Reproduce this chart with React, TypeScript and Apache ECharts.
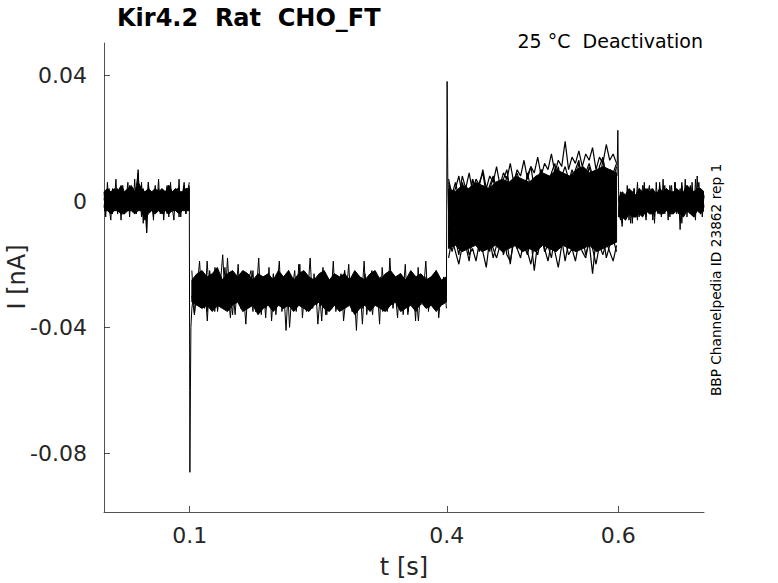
import React, { useEffect, useRef } from "react";
import * as echarts from "echarts";

// Tick positions and labels
const X_TICKS = [0.1, 0.4, 0.6];
const X_TICK_LABELS = ["0.1", "0.4", "0.6"];
const Y_TICKS = [-0.08, -0.04, 0, 0.04];
const Y_TICK_LABELS = ["-0.08", "-0.04", "0", "0.04"];

// All current values below are in pA (1 pA = 0.001 nA).
// Pre-pulse (0 – 0.1 s): noisy sweeps plus the dense noise core
const preA = [1, -3, 4, -2, 3, -4, 2, -1, 4, -3, 0, 3, -4, 2, -2, 5, -3, 1, -4, 3, -1, 2, -5, 4, 0, -3, 6, -2, 3, -4, 1, -2, 4, -3, 2, -1, 3, -4, 5, -2, 0, 3, -3, 4, -1, -3, 2, 5, -2, 3, 4];
const preB = [-2, 3, -1, 4, -4, 2, -3, 3, -2, 1, -4, 4, -1, 3, -3, 2, -2, 4, -3, 5, 9, -2, 6, -4, 2, -10, 3, -3, 1, -5, 4, -2, 3, -3, 2, -4, 3, -1, -4, 4, -2, 2, -3, 4, -5, 3, -2, 2, -4, 3, 6];
const preC = [3, -5, 6, -2, -6, 4, -1, 7, -4, 2, -6, 5, -3, 1, 6, -5, 3, -2, 7, -4, 10, -1, 5, -7, 3, -10, 6, -3, 2, -6, 5, -1, 7, -4, 3, -6, 1, 5, -5, 6, -2, -6, 4, -3, 7, -5, 2, 6, -4, 3, -2];
const preHi = [3, 4, 3, 4, 3, 5, 3, 4, 5, 3, 6, 4, 3, 4, 3, 4, 3, 4, 3, 5, 3, 4, 3, 3, 4, 4];
const preLo = [-3, -3, -4, -3, -3, -4, -4, -3, -3, -4, -3, -3, -6, -4, -3, -4, -3, -4, -3, -4, -3, -3, -4, -3, -3, -3];

// Step onset transient at 0.1 s
const onsetT = [0.0995, 0.1002, 0.1008, 0.1014, 0.1025];
const onsetV = [5, -86, -60, -40, -34];

// Holding step (0.1 – 0.4 s)
const holdA = [-34, -27, -33, -24, -31, -26, -35, -22, -30, -27, -34, -25, -31, -21, -33, -28, -36, -24, -30, -26, -33, -23, -31, -28, -35, -25, -29, -32, -24, -34, -27, -31, -23, -36, -28, -30, -25, -33, -22, -31, -27, -35, -26, -30, -24, -34, -29, -32, -23, -31, -27, -38, -25, -30, -28, -34, -24, -31, -26, -33, -22, -30, -28, -35, -25, -31, -27, -34, -23, -30, -29, -36, -26, -32, -24, -31, -28, -34, -25, -30, -27, -33, -23, -31, -29, -35, -26, -30, -24, -33, -28, -31, -25, -34, -27, -30, -24, -32, -28, -31, -26];
const holdB = [-30, -36, -25, -32, -27, -34, -19, -31, -26, -35, -24, -30, -28, -33, -18, -32, -27, -36, -24, -31, -29, -34, -25, -30, -22, -35, -28, -32, -26, -37, -24, -30, -29, -33, -23, -31, -27, -41, -25, -30, -28, -34, -20, -32, -27, -35, -24, -31, -29, -33, -26, -30, -23, -36, -28, -31, -25, -34, -27, -30, -22, -33, -29, -35, -24, -31, -26, -39, -25, -30, -28, -33, -23, -32, -27, -35, -26, -30, -24, -34, -28, -31, -25, -36, -27, -30, -23, -33, -29, -38, -26, -31, -24, -34, -28, -30, -25, -33, -27, -31, -29];
const holdC = [-22, -36, -28, -19, -33, -26, -38, -24, -30, -21, -35, -27, -17, -32, -29, -37, -23, -31, -20, -34, -28, -39, -25, -22, -33, -30, -18, -36, -27, -32, -21, -38, -26, -29, -19, -35, -31, -24, -40, -28, -22, -33, -20, -37, -27, -30, -18, -34, -25, -39, -29, -21, -36, -26, -32, -19, -35, -28, -23, -38, -30, -20, -34, -27, -41, -24, -31, -19, -36, -29, -22, -33, -26, -39, -21, -30, -35, -18, -32, -28, -37, -23, -31, -20, -36, -27, -25, -38, -21, -33, -29, -19, -35, -26, -31, -22, -37, -28, -24, -34];
const holdHi = [-25, -23, -22, -24, -23, -21, -25, -23, -22, -24, -22, -23, -25, -23, -24, -23, -25, -22, -24, -22, -25, -23, -22, -24, -25, -23, -22, -25, -23, -24, -23, -25, -22, -24, -25, -23, -22, -25, -23, -22, -24, -23, -25, -22, -24, -23, -25, -24, -22, -25, -24];
const holdLo = [-32, -33, -34, -33, -35, -33, -34, -35, -33, -32, -35, -34, -33, -36, -34, -33, -35, -33, -34, -33, -35, -33, -34, -35, -33, -32, -34, -35, -33, -35, -34, -33, -36, -34, -33, -35, -33, -34, -35, -33, -32, -35, -34, -33, -35, -32, -34, -33, -35, -33, -32];

// Step offset transient at 0.4 s
const offsetT = [0.3995, 0.4003, 0.4012, 0.402];
const offsetV = [-30, 38, 4, -4];

// Deactivation tails (0.4 – 0.6 s), one per sweep, plus their dense overlap core
const tail1 = [-10, -16, -12, -17, -9, -14, -19, -11, -13, -16, -8, -15, -12, -18, -14, -10, -17, -13, -20, -11, -15, -9, -14, -17, -12, -22, -13, -10, -16, -14, -18, -11, -15, -12, -19, -13, -9, -16, -14, -11, -17, -13, -23, -12, -15, -10, -18, -14, -12, -16];
const tail2 = [-18, -12, -16, -20, -14, -11, -17, -15, -19, -13, -16, -21, -12, -15, -18, -14, -10, -17, -19, -13, -15, -18, -12, -16, -20, -14, -17, -11, -15, -19, -13, -16, -21, -14, -12, -17, -15, -19, -13, -16, -18, -12, -15, -20, -14, -17, -13, -16, -19, -14];
const tail3 = [-8, -13, -10, -15, -7, -12, -9, -14, -11, -6, -13, -10, -16, -9, -12, -8, -14, -11, -13, -7, -15, -10, -12, -9, -14, -8, -11, -13, -6, -12, -10, -15, -9, -11, -7, -14, -10, -12, -8, -13, -11, -9, -15, -10, -7, -12, -9, -13, -10, -8];
const tail4 = [-5, -10, -7, -11, -4, -9, -12, -6, -8, -3, -10, -7, -9, -5, -11, -8, -4, -9, -12, -6, -8, -5, -10, -7, -3, -9, -6, -11, -5, -8, -7, -4, -10, -6, -9, -3, -8, -6, -10, -5, -7, -4, -9, -6, -2, -8, -5, -9, -6, -4];
const tail5 = [-2, -7, -4, -8, -1, -6, -3, -9, -5, -2, -7, -3, -6, 0, -5, -8, -2, -4, -7, -1, -5, -3, -8, -2, -4, 1, -6, -3, -5, -1, -4, -7, 0, -3, -5, -1, -6, -2, 1, -4, -3, -6, 0, -2, -5, 1, -3, -1, -4, 0];
const tail6 = [1, -4, -1, -5, 2, -2, -6, 0, -3, 3, -1, -4, 1, -2, -5, 2, 0, -3, 3, -1, -4, 1, -2, 4, 0, -3, 2, -1, 4, 0, -2, 3, 1, -3, 4, 0, 2, -2, 5, 1, -1, 3, 0, 5, 1, -2, 4, 2, 0, 3];
const tail7 = [3, -2, 1, -3, 4, 0, -1, 5, 1, -3, 3, 0, -2, 4, 2, -1, 6, 1, 3, -1, 5, 2, 0, 6, 3, 1, 7, 2, 4, 0, 6, 3, 1, 8, 4, 2, 7, 3, 5, 9, 4, 2, 8, 5, 3, 9, 6, 4, 8, 5];
const tail8 = [5, 0, 3, -1, 6, 2, 0, 7, 3, 1, 5, -1, 4, 7, 2, 6, 3, 8, 4, 1, 7, 5, 2, 9, 4, 6, 3, 10, 5, 8, 4, 7, 11, 5, 8, 6, 10, 7, 12, 8, 5, 11, 7, 9, 6, 13, 8, 10, 7, 11];
const tail9 = [7, 2, 6, 1, 8, 4, 9, 3, 7, 5, 10, 4, 8, 6, 11, 5, 9, 7, 12, 6, 10, 8, 13, 7, 11, 9, 14, 8, 12, 10, 15, 9, 13, 11, 19, 10, 14, 12, 16, 11, 15, 13, 17, 10, 14, 12, 18, 13, 15, 12];
const tail10 = [6, 1, 4, 8, 2, 5, 0, 7, 3, 6, 9, 2, 5, 8, 4, 1, 7, 10, 3, 6, 9, 5, 2, 8, 11, 4, 7, 10, 6, 3, 9, 12, 5, 8, 11, 7, 4, 10, 13, 6, 9, 12, 8, 5, 11, 14, 7, 10, 9, 12];
const tailHi = [4, 3, 5, 4, 6, 5, 4, 6, 7, 6, 8, 7, 6, 8, 9, 8, 10, 9, 8, 10, 11, 9, 10, 11, 10, 9];
const tailLo = [-15, -14, -16, -15, -14, -16, -15, -14, -16, -15, -14, -16, -15, -16, -14, -15, -16, -14, -15, -16, -15, -14, -16, -15, -14, -13];

// Spike at the end of the tail step, 0.6 s
const endT = [0.5985, 0.5995, 0.6005];
const endV = [8, 22.5, 0];

// Post-pulse (0.6 – 0.7 s)
const postA = [-2, -6, 1, -5, 2, -4, 0, -7, 3, -3, 1, -5, 4, -2, -1, 5, -4, 2, -3, 4, -1, -5, 3, -2, 5, -3, 1, -4, 4, -2, 0, 5, -3, 2, -4, 3, -1, 6, -2, 4, -3, 1, 5, -2, 3, -4, 2, 6, -1, 3, -2];
const postB = [-5, 0, -7, 2, -3, 3, -6, 1, -4, 4, -2, -6, 2, -3, 5, -1, -5, 4, -2, 1, -6, 3, 0, -4, 6, -1, -3, 5, -2, 2, -5, 3, -3, 6, 0, -4, 4, -7, 2, -1, 5, -3, 0, 4, -5, 7, -2, 1, -4, 3, 1];
const postC = [-4, 3, -8, 2, -6, 5, -3, 1, -7, 4, -2, 6, -5, 3, -1, 6, -6, 2, 5, -4, 3, -7, 6, -2, 4, -5, 7, -3, 2, -6, 5, -1, -4, 6, -2, 3, -9, 5, -3, 7, -5, 2, -4, 6, -1, -6, 8, -3, 4, -5, 2];
const postHi = [1, 3, 2, 4, 3, 2, 4, 3, 4, 3, 4, 2, 4, 3, 4, 3, 3, 4, 3, 3, 5, 4, 3, 4, 4, 3];
const postLo = [-5, -5, -6, -4, -5, -5, -4, -5, -3, -4, -4, -3, -4, -4, -3, -4, -4, -3, -4, -5, -3, -4, -5, -3, -4, -3];

const sampled = (vals: number[], t0: number, t1: number) =>
  vals.map((v, i) => [t0 + ((t1 - t0) * i) / (vals.length - 1), v / 1000]);
const paired = (ts: number[], vs: number[]) => ts.map((t, i) => [t, vs[i] / 1000]);

const labelFor = (ticks: number[], labels: string[]) => (v: number) => {
  const i = ticks.findIndex((t) => Math.abs(t - v) < 1e-9);
  return i >= 0 ? labels[i] : "";
};

const BANDS = [
  { t0: 0, t1: 0.0995, hi: preHi, lo: preLo },
  { t0: 0.1025, t1: 0.3995, hi: holdHi, lo: holdLo },
  { t0: 0.402, t1: 0.598, hi: tailHi, lo: tailLo },
  { t0: 0.6005, t1: 0.7, hi: postHi, lo: postLo },
];

export default function App() {
  const ref = useRef<HTMLDivElement>(null);
  useEffect(() => {
    document.body.style.margin = "0";
    if (!ref.current) return;
    const chart = echarts.init(ref.current, undefined, { renderer: "svg" });
    const thin: number[][][] = [
      sampled(preA, 0, 0.0995),
      sampled(preB, 0, 0.0995),
      sampled(preC, 0, 0.0995),
      paired(onsetT, onsetV),
      sampled(holdA, 0.1025, 0.3995),
      sampled(holdB, 0.1025, 0.3995),
      sampled(holdC, 0.1025, 0.3995),
      paired(offsetT, offsetV),
      paired(endT, endV),
      sampled(postA, 0.6005, 0.7),
      sampled(postB, 0.6005, 0.7),
      sampled(postC, 0.6005, 0.7),
    ];
    const tails = [tail1, tail2, tail3, tail4, tail5, tail6, tail7, tail8, tail9, tail10].map((t) =>
      sampled(t, 0.402, 0.598)
    );
    const axisColor = "#262626";
    const font = "DejaVu Sans";
    const bandSeries = {
      type: "custom",
      silent: true,
      clip: true,
      data: BANDS.map((b) => [b.t0, b.hi[0] / 1000]),
      renderItem: (params: any, api: any) => {
        const b = BANDS[params.dataIndex];
        const up = sampled(b.hi, b.t0, b.t1).map((p) => api.coord(p));
        const dn = sampled(b.lo, b.t0, b.t1).map((p) => api.coord(p)).reverse();
        return { type: "polygon", shape: { points: up.concat(dn) }, style: { fill: "#000", stroke: "#000", lineWidth: 1 } };
      },
    };
    const lineSeries = (d: number[][], w: number) => ({
      type: "line",
      data: d,
      showSymbol: false,
      symbol: "none",
      silent: true,
      lineStyle: { color: "#000", width: w },
      emphasis: { disabled: true },
    });
    chart.setOption({
      animation: false,
      textStyle: { fontFamily: font },
      grid: { left: 104, top: 43, right: 74, bottom: 71, containLabel: false },
      xAxis: {
        type: "value",
        min: 0,
        max: 0.7,
        axisLine: { show: true, onZero: false, lineStyle: { color: axisColor, width: 0.8 } },
        axisTick: { show: true, inside: true, length: 6, customValues: X_TICKS, lineStyle: { color: axisColor, width: 0.8 } },
        axisLabel: {
          show: true,
          customValues: X_TICKS,
          formatter: labelFor(X_TICKS, X_TICK_LABELS),
          color: axisColor,
          fontSize: 22,
          fontFamily: font,
          margin: 12,
        },
        splitLine: { show: false },
      },
      yAxis: {
        type: "value",
        min: -0.0986,
        max: 0.0502,
        axisLine: { show: true, onZero: false, lineStyle: { color: axisColor, width: 0.8 } },
        axisTick: { show: true, inside: true, length: 6, customValues: Y_TICKS, lineStyle: { color: axisColor, width: 0.8 } },
        axisLabel: {
          show: true,
          customValues: Y_TICKS,
          formatter: labelFor(Y_TICKS, Y_TICK_LABELS),
          color: axisColor,
          fontSize: 22,
          fontFamily: font,
          margin: 17,
        },
        splitLine: { show: false },
      },
      graphic: [
        {
          type: "text",
          x: 117,
          y: 18,
          style: { text: "Kir4.2  Rat  CHO_FT", font: `bold 24px "${font}"`, fill: "#000", textAlign: "left", textVerticalAlign: "middle" },
        },
        {
          type: "text",
          x: 703,
          y: 41,
          style: { text: "25 °C  Deactivation", font: `19px "${font}"`, fill: "#000", textAlign: "right", textVerticalAlign: "middle" },
        },
        {
          type: "text",
          x: 716,
          y: 280,
          rotation: Math.PI / 2,
          style: { text: "BBP Channelpedia ID 23862 rep 1", font: `13.7px "${font}"`, fill: "#000", textAlign: "center", textVerticalAlign: "middle" },
        },
        {
          type: "text",
          x: 404,
          y: 567,
          style: { text: "t [s]", font: `24px "${font}"`, fill: axisColor, textAlign: "center", textVerticalAlign: "middle" },
        },
        {
          type: "text",
          x: 17,
          y: 277,
          rotation: Math.PI / 2,
          style: { text: "I [nA]", font: `24px "${font}"`, fill: axisColor, textAlign: "center", textVerticalAlign: "middle" },
        },
      ],
      series: [bandSeries, ...thin.map((d) => lineSeries(d, 1)), ...tails.map((d) => lineSeries(d, 1.2))],
    });
    return () => chart.dispose();
  }, []);
  return <div ref={ref} style={{ width: 778, height: 583 }} />;
}
